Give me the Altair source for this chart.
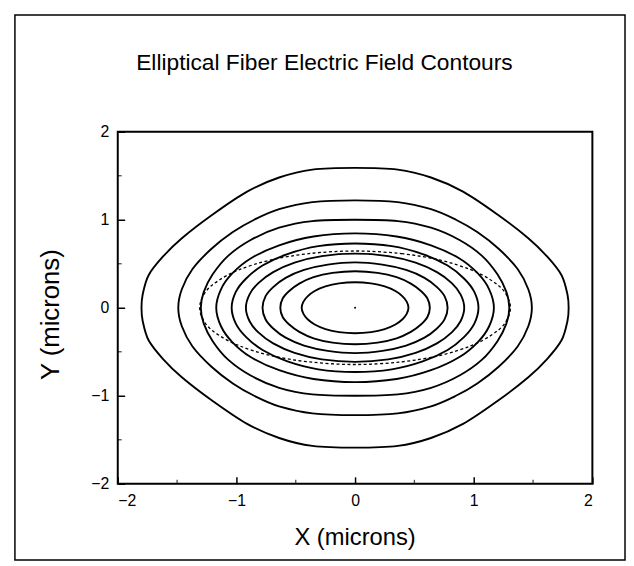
import altair as alt
import pandas as pd

# ---- data (first quadrant of each contour, mirrored) ----
c1_x = [0.00, 0.135, 0.25, 0.34, 0.40, 0.435, 0.45]
c1_y = [0.29, 0.277, 0.242, 0.19, 0.13, 0.07, 0.00]
c2_x = [0.00, 0.19, 0.35, 0.47, 0.555, 0.61, 0.63]
c2_y = [0.415, 0.396, 0.347, 0.274, 0.19, 0.105, 0.00]
c3_x = [0.00, 0.23, 0.43, 0.585, 0.69, 0.755, 0.78]
c3_y = [0.515, 0.49, 0.43, 0.34, 0.235, 0.13, 0.00]
c4_x = [0.00, 0.28, 0.51, 0.69, 0.815, 0.89, 0.92]
c4_y = [0.615, 0.587, 0.513, 0.405, 0.28, 0.15, 0.00]
c5_x = [0.00, 0.31, 0.57, 0.78, 0.92, 1.005, 1.04]
c5_y = [0.73, 0.70, 0.61, 0.48, 0.33, 0.18, 0.00]
c6_x = [0.00, 0.35, 0.64, 0.88, 1.035, 1.13, 1.17]
c6_y = [0.845, 0.81, 0.71, 0.56, 0.39, 0.21, 0.00]
c7_x = [0.00, 0.36, 0.64, 0.88, 1.07, 1.20, 1.275, 1.30]
c7_y = [1.00, 0.985, 0.91, 0.77, 0.59, 0.38, 0.18, 0.00]
c8_x = [0.00, 0.36, 0.64, 0.85, 1.03, 1.21, 1.37, 1.46, 1.49]
c8_y = [1.22, 1.20, 1.12, 1.00, 0.86, 0.67, 0.44, 0.21, 0.00]
c9_x = [0.00, 0.36, 0.64, 0.91, 1.20, 1.46, 1.62, 1.74, 1.79, 1.80]
c9_y = [1.59, 1.57, 1.48, 1.32, 1.06, 0.79, 0.58, 0.37, 0.15, 0.00]
core_x = [0.00, 0.39, 0.72, 0.98, 1.15, 1.26, 1.31]
core_y = [0.645, 0.615, 0.54, 0.43, 0.31, 0.18, 0.00]

contours = [(c1_x, c1_y), (c2_x, c2_y), (c3_x, c3_y), (c4_x, c4_y), (c5_x, c5_y),
            (c6_x, c6_y), (c7_x, c7_y), (c8_x, c8_y), (c9_x, c9_y)]

major_ticks = [-2, -1, 0, 1, 2]
minor_ticks = [-1.5, -0.5, 0.5, 1.5]

title_text = "Elliptical Fiber Electric Field Contours"
x_title = "X (microns)"
y_title = "Y (microns)"


def loop(xs, ys):
    q = list(zip(xs, ys))
    pts = list(q)
    pts += [(x, -y) for x, y in reversed(q)][1:]
    pts += [(-x, -y) for x, y in q][1:]
    pts += [(-x, y) for x, y in reversed(q)][1:-1]
    return pts


rows = []
for k, (xs, ys) in enumerate(contours):
    for i, (x, y) in enumerate(loop(xs, ys)):
        rows.append({"c": f"c{k+1}", "i": i, "x": x, "y": y})
df = pd.DataFrame(rows)
core = pd.DataFrame([{"i": i, "x": x, "y": y} for i, (x, y) in enumerate(loop(core_x, core_y))])

W, H = 480, 356
FONT = "Liberation Sans"

xs = alt.Scale(domain=[-2, 2], nice=False, zero=False)
ys = alt.Scale(domain=[-2, 2], nice=False, zero=False)

x_axis = alt.Axis(values=major_ticks, title=None, offset=-7, tickSize=7, domain=False,
                  grid=False, labelPadding=9, format="d")
y_axis = alt.Axis(values=major_ticks, title=None, offset=-7, tickSize=7, domain=False,
                  grid=False, labelPadding=9, format="d")

lines = alt.Chart(df).mark_line(color="black", strokeWidth=1.9, interpolate="cardinal-closed").encode(
    x=alt.X("x:Q", scale=xs, axis=x_axis),
    y=alt.Y("y:Q", scale=ys, axis=y_axis),
    detail="c:N",
    order="i:Q",
)

core_line = alt.Chart(core).mark_line(color="black", strokeWidth=1.3, strokeDash=[3, 2.5],
                                      interpolate="cardinal-closed").encode(
    x=alt.X("x:Q", scale=xs), y=alt.Y("y:Q", scale=ys), order="i:Q")

dot = alt.Chart(pd.DataFrame({"x": [0.0], "y": [0.0]})).mark_circle(color="black", size=4, opacity=1).encode(
    x=alt.X("x:Q", scale=xs), y=alt.Y("y:Q", scale=ys))

tick_df = pd.DataFrame({"t": minor_ticks})
xminor = alt.Chart(tick_df).mark_tick(color="black", size=4, thickness=1.3).encode(
    x=alt.X("t:Q", scale=xs), y=alt.value(H - 2))
yminor = alt.Chart(tick_df).mark_tick(color="black", size=4, thickness=1.3).encode(
    y=alt.Y("t:Q", scale=ys), x=alt.value(2))

one = pd.DataFrame({"a": [0]})
border = alt.Chart(one).mark_rect(fill=None, stroke="black", strokeWidth=1.5).encode(
    x=alt.value(-104), x2=alt.value(513), y=alt.value(-118), y2=alt.value(433))

title = alt.Chart(one).mark_text(text=title_text, font=FONT, fontSize=23, align="center",
                                 baseline="alphabetic", color="black").encode(
    x=alt.value(209), y=alt.value(-62))
xt = alt.Chart(one).mark_text(text=x_title, font=FONT, fontSize=24, align="center",
                              baseline="alphabetic", color="black").encode(
    x=alt.value(W / 2), y=alt.value(418))
yt = alt.Chart(one).mark_text(text=y_title, font=FONT, fontSize=26, align="center",
                              baseline="middle", angle=270, color="black").encode(
    x=alt.value(-67), y=alt.value(185))

chart = alt.layer(border, lines, core_line, dot, xminor, yminor, title, xt, yt).properties(
    width=W, height=H, padding={"left": 6, "top": 3, "right": 0, "bottom": 0}
).configure_view(stroke="black", strokeWidth=2).configure_axis(
    labelFont=FONT, labelFontSize=16, labelColor="black", tickColor="black", tickWidth=1.5
)

chart.save("out.html", embed_options={"renderer": "svg", "actions": False})
